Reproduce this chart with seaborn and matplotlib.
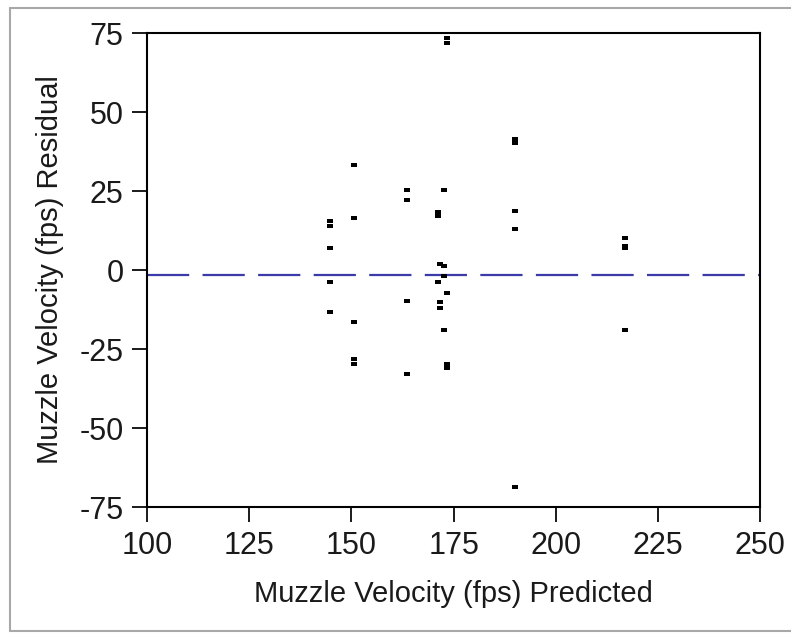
import numpy as np
import pandas as pd
import seaborn as sns
from matplotlib import pyplot as plt
from matplotlib.lines import Line2D

# predicted muzzle velocity (fps) and the residual for each shot
predicted = [144.8, 144.8, 144.8, 144.8, 144.8,
             150.7, 150.7, 150.7, 150.7, 150.7,
             163.6, 163.6, 163.6, 163.6,
             173.4, 173.4, 172.6, 171.1, 171.1, 171.7, 172.6, 172.6,
             171.1, 173.4, 171.7, 171.7, 172.6, 173.4, 173.4,
             190.0, 190.0, 190.0, 190.0, 190.0,
             216.9, 216.9, 216.9, 216.9]
residual = [15.6, 14.0, 7.1, -3.9, -13.3,
            33.3, 16.5, -16.3, -28.0, -29.6,
            25.3, 22.3, -9.7, -33.0,
            73.4, 72.0, 25.3, 18.3, 17.0, 1.9, 1.2, -1.9,
            -3.8, -7.4, -10.2, -12.1, -19.1, -29.8, -31.0,
            41.4, 40.1, 18.7, 12.9, -68.7,
            10.0, 7.6, 6.9, -19.0]
mean_line = -1.5

x_ticks = [100, 125, 150, 175, 200, 225, 250]
y_ticks = [-75, -50, -25, 0, 25, 50, 75]

df = pd.DataFrame({"Muzzle Velocity (fps) Predicted": predicted,
                   "Muzzle Velocity (fps) Residual": residual})

sns.set_theme(style="white")
plt.rcParams['font.family'] = ['Liberation Sans', 'DejaVu Sans']
plt.rcParams['axes.unicode_minus'] = False

fig = plt.figure(figsize=(7.91, 6.43), dpi=100)
ax = fig.add_axes([0.186, 0.2115, 0.775, 0.737])

# small flat rectangle marker like the JMP dots
rect = [(-1, -0.6), (1, -0.6), (1, 0.6), (-1, 0.6)]
sns.scatterplot(data=df, x="Muzzle Velocity (fps) Predicted",
                y="Muzzle Velocity (fps) Residual", ax=ax,
                marker=rect, s=17, color="black", linewidth=0, zorder=3)

ax.axhline(mean_line, color="#3a3aa8", lw=1.6, dashes=(19, 6), zorder=2)

ax.set_xlim(100, 250)
ax.set_ylim(-75, 75)
ax.set_xticks(x_ticks)
ax.set_yticks(y_ticks)
ax.tick_params(axis="both", direction="out", length=11, width=1.4,
               pad=6, labelsize=22, colors="#1a1a1a", left=True, bottom=True)
for sp in ax.spines.values():
    sp.set_color("black")
    sp.set_linewidth(1.5)

ax.set_xlabel("Muzzle Velocity (fps) Predicted", fontsize=21, labelpad=14,
              color="#1a1a1a")
ax.set_ylabel("Muzzle Velocity (fps) Residual", fontsize=21, labelpad=11,
              color="#1a1a1a")

# grey report frame around the plot
frame = dict(color="#a8a8a8", lw=1.5, transform=fig.transFigure)
fig.add_artist(Line2D([0.013, 1.0], [0.988, 0.988], **frame))
fig.add_artist(Line2D([0.013, 0.013], [0.019, 0.988], **frame))
fig.add_artist(Line2D([0.013, 1.0], [0.019, 0.019], **frame))

fig.savefig("out.png", dpi=100)
